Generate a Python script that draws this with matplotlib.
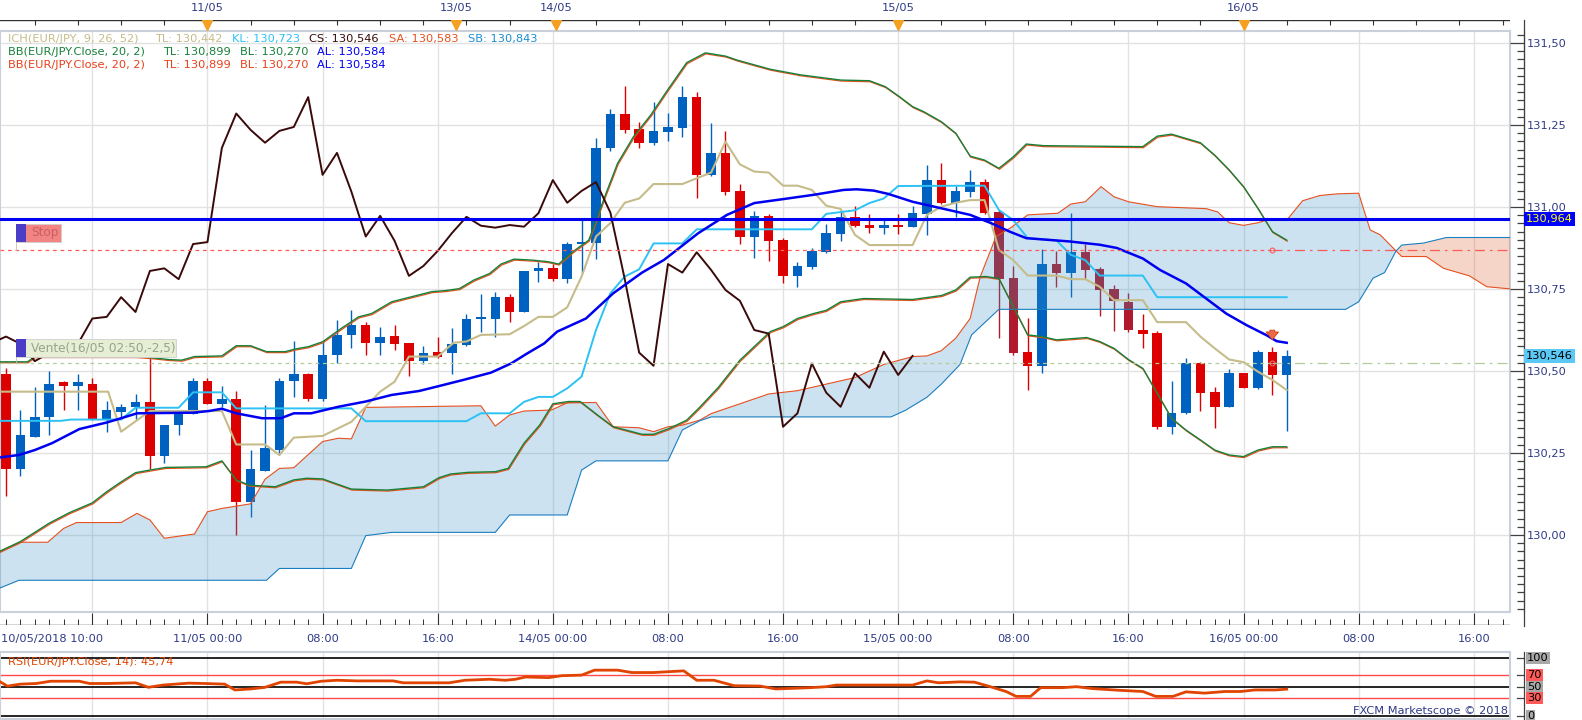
import numpy as np
import matplotlib
matplotlib.use('Agg')
import matplotlib.pyplot as plt
from matplotlib.patches import Rectangle, Polygon
from matplotlib.transforms import blended_transform_factory, offset_copy

# ---- hourly candles EUR/JPY, index 0 = 10/05 10:00 ----
opens = [130.49, 130.20, 130.30, 130.36, 130.465, 130.455, 130.46, 130.35, 130.375, 130.39,
         130.405, 130.24, 130.335, 130.37, 130.47, 130.40, 130.415, 130.10, 130.195, 130.26,
         130.47, 130.49, 130.415, 130.55, 130.61, 130.64, 130.585, 130.607, 130.585, 130.53,
         130.557, 130.555, 130.58, 130.66, 130.66, 130.725, 130.68, 130.805, 130.813, 130.78,
         130.887, 130.89, 131.18, 131.285, 131.237, 131.196, 131.23, 131.242, 131.335, 131.098,
         131.165, 131.049, 130.91, 130.973, 130.899, 130.79, 130.818, 130.864, 130.919, 130.97,
         130.945, 130.937, 130.945, 130.94, 130.98, 131.082, 131.013, 131.046, 131.076, 130.986,
         130.784, 130.558, 130.516, 130.826, 130.80, 130.862, 130.811, 130.75, 130.711, 130.625,
         130.616, 130.33, 130.371, 130.525, 130.435, 130.391, 130.493, 130.449, 130.557, 130.488]
highs = [130.51, 130.38, 130.45, 130.50, 130.47, 130.49, 130.48, 130.41, 130.40, 130.43,
         130.54, 130.335, 130.375, 130.48, 130.48, 130.455, 130.44, 130.26, 130.395, 130.48,
         130.59, 130.495, 130.59, 130.655, 130.685, 130.65, 130.635, 130.64, 130.585, 130.575,
         130.605, 130.63, 130.675, 130.735, 130.74, 130.735, 130.805, 130.833, 130.826, 130.893,
         130.96, 131.21, 131.30, 131.37, 131.26, 131.32, 131.286, 131.37, 131.35, 131.257,
         131.233, 131.07, 130.988, 130.98, 130.905, 130.833, 130.875, 130.948, 130.988, 131.003,
         130.979, 130.963, 130.98, 131.003, 131.127, 131.133, 131.064, 131.113, 131.085, 130.99,
         130.82, 130.662, 130.871, 130.867, 130.981, 130.887, 130.816, 130.762, 130.737, 130.674,
         130.621, 130.47, 130.539, 130.528, 130.45, 130.505, 130.495, 130.564, 130.572, 130.564]
lows = [130.12, 130.18, 130.30, 130.305, 130.38, 130.38, 130.35, 130.315, 130.355, 130.355,
        130.20, 130.22, 130.305, 130.37, 130.40, 130.39, 130.00, 130.055, 130.195, 130.245,
        130.42, 130.41, 130.41, 130.525, 130.57, 130.55, 130.55, 130.565, 130.485, 130.52,
        130.54, 130.49, 130.575, 130.62, 130.605, 130.65, 130.68, 130.77, 130.775, 130.767,
        130.80, 130.84, 131.17, 131.225, 131.18, 131.19, 131.20, 131.214, 131.027, 131.095,
        131.037, 130.887, 130.845, 130.835, 130.767, 130.757, 130.81, 130.86, 130.897, 130.94,
        130.922, 130.918, 130.918, 130.94, 130.915, 131.01, 130.97, 131.03, 130.98, 130.60,
        130.55, 130.442, 130.495, 130.757, 130.727, 130.78, 130.669, 130.623, 130.62, 130.569,
        130.322, 130.308, 130.37, 130.379, 130.327, 130.39, 130.449, 130.446, 130.427, 130.318]
closes = [130.20, 130.305, 130.36, 130.46, 130.455, 130.465, 130.35, 130.38, 130.39, 130.405,
          130.24, 130.335, 130.37, 130.47, 130.40, 130.415, 130.10, 130.20, 130.265, 130.47,
          130.49, 130.415, 130.55, 130.61, 130.64, 130.585, 130.605, 130.583, 130.53, 130.555,
          130.544, 130.583, 130.66, 130.665, 130.725, 130.68, 130.805, 130.813, 130.78, 130.887,
          130.893, 131.18, 131.285, 131.235, 131.196, 131.232, 131.244, 131.335, 131.098, 131.165,
          131.047, 130.91, 130.973, 130.897, 130.79, 130.82, 130.866, 130.921, 130.97, 130.943,
          130.937, 130.945, 130.94, 130.981, 131.082, 131.013, 131.049, 131.076, 130.983, 130.78,
          130.556, 130.516, 130.826, 130.80, 130.862, 130.808, 130.747, 130.714, 130.625, 130.614,
          130.33, 130.371, 130.523, 130.434, 130.391, 130.493, 130.449, 130.559, 130.488, 130.546]

# ---- indicator lines (index, price) ----
tenkan = [(-0.5, 130.437), (7.1, 130.437), (8, 130.315), (10, 130.378), (15, 130.378), (16, 130.276),
          (18, 130.276), (19, 130.244), (20, 130.297), (22, 130.302), (24, 130.345), (26, 130.437),
          (27, 130.467), (28, 130.544), (30, 130.544), (31.1, 130.586), (32, 130.59), (33, 130.61),
          (35, 130.612), (36, 130.637), (37, 130.665), (38, 130.665), (39, 130.694), (40, 130.788),
          (41, 130.91), (42, 130.951), (43, 131.013), (44, 131.026), (45, 131.07), (47, 131.07),
          (49, 131.105), (50, 131.199), (51, 131.13), (52, 131.108), (53, 131.105), (54, 131.065),
          (55, 131.065), (56, 131.052), (57, 131.004), (58, 130.994), (59, 130.915), (60, 130.884),
          (63, 130.884), (64, 130.976), (65, 131.001), (66, 131.013), (67, 131.021), (68, 131.021),
          (69, 130.869), (70, 130.838), (71, 130.791), (73, 130.791), (74, 130.78), (75, 130.78),
          (76, 130.757), (77, 130.716), (79, 130.716), (80, 130.649), (82, 130.649), (83, 130.605),
          (84, 130.569), (85, 130.535), (86, 130.527), (87, 130.498), (88, 130.473), (89, 130.442)]
kijun = [(-0.5, 130.348), (3.8, 130.348), (4.5, 130.352), (8, 130.352), (9, 130.388), (12, 130.388),
         (13, 130.435), (15, 130.435), (16, 130.386), (24, 130.386), (25, 130.347), (32, 130.347),
         (33, 130.371), (35, 130.371), (36, 130.406), (37, 130.421), (38, 130.421), (39, 130.447),
         (40, 130.483), (41, 130.625), (42, 130.737), (43, 130.788), (44, 130.81), (45, 130.889),
         (47, 130.889), (48, 130.932), (56, 130.932), (57, 130.979), (59, 130.99), (60, 131.012),
         (61, 131.026), (62, 131.064), (68, 131.065), (69, 130.991), (70, 130.96), (71, 130.905),
         (73, 130.898), (74, 130.854), (75, 130.838), (76, 130.791), (79, 130.791), (80, 130.725),
         (89, 130.725)]
senkou_a = [(-0.5, 129.949), (1, 129.978), (2.9, 129.978), (4, 130.02), (4.9, 130.038), (8, 130.038),
            (9.1, 130.066), (10, 130.046), (11, 129.99), (12.1, 129.997), (13.1, 130.003), (14, 130.071),
            (15, 130.081), (17, 130.095), (18, 130.17), (19, 130.203), (20, 130.205), (21.1, 130.249),
            (22, 130.285), (23.1, 130.295), (24, 130.293), (25, 130.389), (33, 130.394), (34, 130.332),
            (35, 130.366), (36, 130.378), (37.9, 130.381), (39, 130.403), (41, 130.404), (42.2, 130.33),
            (44, 130.327), (45, 130.315), (46, 130.33), (47, 130.335), (48.2, 130.35), (49, 130.37),
            (51, 130.40), (53, 130.43), (55, 130.44), (57, 130.46), (59, 130.48), (61, 130.52),
            (63, 130.544), (64, 130.546), (65, 130.562), (66, 130.60), (67, 130.66), (67.7, 130.787),
            (68.8, 130.91), (69.9, 130.939), (71, 130.976), (73.1, 130.981), (74, 131.009), (75, 131.016),
            (76.1, 131.062), (77, 131.031), (78, 131.016), (80, 131.001), (83.4, 130.995), (84.2, 130.985),
            (85, 130.952), (86, 130.944), (87, 130.952), (87.9, 130.964), (89.1, 130.965), (90.1, 131.019),
            (91.3, 131.035), (92.5, 131.04), (94, 131.042), (94.8, 130.93), (95.5, 130.915),
            (96.6, 130.866), (97, 130.849), (98.7, 130.849), (99.9, 130.813), (101.7, 130.79),
            (102.9, 130.757), (104.6, 130.75)]
senkou_b = [(-0.5, 129.837), (0.9, 129.862), (18.1, 129.862), (19, 129.898), (24, 129.898), (25, 129.998),
            (26.8, 130.008), (34, 130.008), (35, 130.061), (39, 130.061), (40, 130.198), (41, 130.226),
            (46, 130.226), (47, 130.32), (48.2, 130.348), (49, 130.36), (61.5, 130.36), (62.5, 130.38),
            (64, 130.42), (65, 130.46), (66.3, 130.52), (67.1, 130.61), (69, 130.688), (93.1, 130.688),
            (94, 130.711), (95, 130.783), (95.8, 130.80), (96.6, 130.866), (97, 130.884), (98.5, 130.89),
            (100.1, 130.907), (104.6, 130.907)]
bb_upper = [(-0.5, 130.528), (1.5, 130.528), (2, 130.544), (9, 130.544), (10, 130.541), (11.3, 130.535),
            (12.2, 130.533), (13.1, 130.544), (15, 130.546), (16, 130.577), (17, 130.577), (18.1, 130.559),
            (19.4, 130.559), (20.1, 130.567), (21, 130.574), (22, 130.589), (23.3, 130.63), (24.5, 130.665),
            (25.4, 130.675), (26.8, 130.711), (27.7, 130.721), (29.6, 130.742), (30.5, 130.745),
            (31.5, 130.751), (32.5, 130.777), (33.6, 130.797), (34.4, 130.826), (35.3, 130.841),
            (36.6, 130.838), (37.7, 130.833), (38.4, 130.826), (39.4, 130.864), (40.5, 130.899),
            (41.7, 131.042), (42.5, 131.133), (43.6, 131.214), (44.8, 131.28), (45.9, 131.352),
            (47.3, 131.44), (48.6, 131.47), (50, 131.46), (50.8, 131.448), (53.1, 131.42), (55.2, 131.403),
            (58, 131.387), (60, 131.385), (61.1, 131.367), (62.1, 131.336), (63, 131.306), (63.8, 131.29),
            (65, 131.26), (66, 131.225), (67, 131.155), (68, 131.143), (69, 131.118), (70, 131.153),
            (70.9, 131.192), (72.1, 131.187), (79, 131.184), (80, 131.216), (81, 131.222), (82, 131.209),
            (83, 131.196), (84, 131.158), (85, 131.113), (86, 131.062), (87, 130.996), (88, 130.925),
            (89, 130.899)]
bb_lower = [(-0.5, 129.949), (1, 129.98), (3, 130.036), (4.4, 130.068), (6, 130.098), (7, 130.132),
            (7.9, 130.159), (9, 130.19), (10, 130.198), (11.1, 130.206), (13.9, 130.208), (15, 130.226),
            (16, 130.168), (16.9, 130.152), (18.7, 130.147), (20, 130.168), (20.9, 130.173), (22, 130.171),
            (24, 130.14), (26.5, 130.137), (29, 130.147), (30.1, 130.175), (30.9, 130.186), (32.1, 130.191),
            (34, 130.193), (34.9, 130.203), (36, 130.28), (37.1, 130.336), (38, 130.40), (39.1, 130.407),
            (39.9, 130.407), (41.1, 130.366), (42.2, 130.33), (44.2, 130.307), (45, 130.307),
            (46.1, 130.325), (47.3, 130.35), (48.2, 130.389), (49.5, 130.45), (51, 130.533), (53.1, 130.62),
            (54, 130.635), (55, 130.66), (56.1, 130.675), (57, 130.685), (58, 130.711), (59.6, 130.721),
            (63, 130.718), (65, 130.73), (66, 130.747), (67, 130.786), (68.1, 130.788), (69, 130.782),
            (70, 130.696), (71, 130.61), (72, 130.605), (73, 130.595), (75.1, 130.602), (76, 130.59),
            (77, 130.569), (78, 130.535), (79, 130.508), (80, 130.432), (81, 130.356), (82, 130.32),
            (83, 130.29), (84, 130.259), (85, 130.244), (86, 130.239), (87, 130.259), (88, 130.269),
            (89, 130.269)]
bb_mid = [(-0.5, 130.236), (0.9, 130.244), (2, 130.259), (3.2, 130.28), (5.1, 130.323), (7, 130.343),
          (8, 130.356), (9.1, 130.371), (13, 130.373), (14.1, 130.378), (15, 130.385), (16, 130.371),
          (17.8, 130.356), (19.1, 130.356), (20, 130.371), (21.2, 130.371), (23.1, 130.391), (25, 130.407),
          (26.8, 130.427), (28.7, 130.439), (29.9, 130.452), (31.8, 130.473), (33.7, 130.495),
          (35.1, 130.523), (36.2, 130.553), (37.4, 130.584), (38.3, 130.62), (40.3, 130.66),
          (42.2, 130.737), (44.2, 130.80), (45.7, 130.838), (46, 130.848), (48.1, 130.92), (50.1, 130.976),
          (52, 131.012), (54, 131.024), (56.1, 131.037), (58.2, 131.052), (59.1, 131.054), (60.3, 131.05),
          (61.3, 131.04), (63, 131.016), (65, 130.996), (67, 130.976), (68.5, 130.95), (69.8, 130.924),
          (70.9, 130.905), (73.9, 130.895), (76, 130.885), (77.2, 130.875), (79, 130.843), (80.2, 130.808),
          (82, 130.767), (83.4, 130.721), (84.8, 130.675), (86.2, 130.64), (87.6, 130.609),
          (88.3, 130.591), (89, 130.586)]
rsi = [(-0.4, 58.3), (0.1, 51), (1.0, 54.4), (2.1, 55.5), (3.1, 59.4), (5.1, 59.4), (5.8, 55.5), (7.0, 55.5),
       (9.0, 56.7), (9.9, 48.9), (10.9, 52.8), (12.7, 56.1), (13.8, 55.5), (15.2, 54.4), (15.9, 44.4),
       (17.0, 46.1), (18.0, 48.9), (19.1, 57.8), (20.2, 57.8), (20.9, 55.0), (21.9, 59.4), (23.0, 61.1),
       (24.4, 60), (26.9, 60), (27.6, 56.7), (30.8, 56.7), (31.9, 61.1), (33.6, 62.8), (34.7, 61.1),
       (35.4, 62.8), (36.1, 66.7), (37.7, 65.6), (38.6, 68.9), (40.0, 70), (40.9, 78.5), (42.5, 78.5),
       (43.5, 74.4), (45.0, 74.4), (47.1, 77.3), (48.0, 61.1), (49.2, 61.1), (50.6, 51.7), (52.4, 51.1),
       (53.5, 46.1), (55.9, 48.3), (57, 50), (57.7, 52.8), (63, 52.8), (64, 60), (64.8, 56.7), (66.3, 58.3),
       (67.3, 57.8), (68.4, 50), (69.5, 41.7), (70.2, 33.3), (71.2, 33.3), (71.9, 48.3), (73.4, 48.3),
       (74.4, 50), (75.5, 46.7), (77.3, 43.9), (79, 41.7), (79.9, 33.3), (81.1, 33.3), (82, 41.1),
       (83.3, 38.9), (84.7, 41.7), (85.8, 41.7), (86.8, 44.4), (88.2, 44.4), (89, 45.74)]

dark_red_idx = [69, 70, 73, 75, 76, 77, 78]
stop_price = 130.869
sell_price = 130.523
line_price = 130.964
last_price = 130.546
order_idx = 88

bottom_ticks = [14, 22, 30, 38, 46, 54, 62, 70, 78, 86, 94, 102]
bottom_labels = ['11/05 00:00', '08:00', '16:00', '14/05 00:00', '08:00', '16:00',
                 '15/05 00:00', '08:00', '16:00', '16/05 00:00', '08:00', '16:00']
day_marks = [14, 31.3, 38.2, 62, 86]
day_labels = ['11/05', '13/05', '14/05', '15/05', '16/05']
price_levels = [130.00, 130.25, 130.50, 130.75, 131.00, 131.25, 131.50]
rsi_levels = [(100, '#A8A8A8'), (70, '#FF5A5A'), (50, '#A8A8A8'), (30, '#FF5A5A'), (0, '#A8A8A8')]

# ---- layout (pixel based) ----
W, H = 1582, 720
X0, DX = 6.0, 14.39          # pixel of index 0, pixels per hour
PLOT_R = 1510
XMIN, XMAX = -X0 / DX, (PLOT_R - X0) / DX
YMIN = 130 + (535 - 612) / 328.0
YMAX = 130 + (535 - 31) / 328.0
PPX = 1 / 328.0                # price per pixel

navy = '#2E3A87'
plt.rcParams['font.family'] = ['DejaVu Sans']
fs = 8.2

fig = plt.figure(figsize=(W / 100, H / 100), dpi=100)
fig.patch.set_facecolor('white')


def box(l, t, r, b):
    return [l / W, 1 - b / H, (r - l) / W, (b - t) / H]


def xy(pts):
    a = np.array(pts)
    return a[:, 0], a[:, 1]


def fmt(v, n=2):
    return f'{v:.{n}f}'.replace('.', ',')


ax = fig.add_axes(box(0, 31, PLOT_R, 612))
ax.set_xlim(XMIN, XMAX)
ax.set_ylim(YMIN, YMAX)
ax.set_xticks([6] + bottom_ticks)
ax.set_yticks(price_levels)
ax.tick_params(length=0, labelleft=False, labelbottom=False)
ax.grid(True, color='#E2E2E2', lw=1.0, zorder=0)
ax.set_axisbelow(True)
for s in ax.spines.values():
    s.set_color('#C9D0DA')
    s.set_linewidth(1.5)

# candles
idx = np.arange(len(opens))
o, h, l, c = map(np.array, (opens, highs, lows, closes))
cols = np.where(c >= o, '#0062C0', '#DC0000').astype(object)
for k in dark_red_idx:
    cols[k] = '#B01A2C'
ax.vlines(idx, l, h, colors=list(cols), lw=1.0, zorder=2)
body = np.maximum(np.abs(c - o), 2 * PPX)
ax.bar(idx, body, bottom=np.minimum(o, c), width=0.66, color=list(cols), lw=0, zorder=2)

# ichimoku cloud
ax_a, ay_a = xy(senkou_a)
bx_b, by_b = xy(senkou_b)
cross = 96.6
for sel, fc in [(lambda v: v <= cross, '#3A92C5'), (lambda v: v >= cross, '#DC5D2B')]:
    ma, mb = sel(ax_a), sel(bx_b)
    px = np.r_[ax_a[ma], bx_b[mb][::-1]]
    py = np.r_[ay_a[ma], by_b[mb][::-1]]
    ax.add_patch(Polygon(np.c_[px, py], closed=True, fc=fc, alpha=0.26, lw=0, zorder=3))
ax.plot(ax_a, ay_a, color='#E8501E', lw=0.8, zorder=4)
ax.plot(bx_b, by_b, color='#1A7EC0', lw=0.8, zorder=4)

# bollinger bands (two identical BB overlays: green + orange, 1px apart)
shifted = offset_copy(ax.transData, fig=fig, x=0.6, y=-1.0, units='dots')
for band in (bb_upper, bb_lower):
    bx, by = xy(band)
    ax.plot(bx, by, color='#E8501A', lw=0.9, transform=shifted, zorder=5)
    ax.plot(bx, by, color='#17803A', lw=1.0, zorder=5)
mx, my = xy(bb_mid)
ax.plot(mx, my, color='#0000F0', lw=1.8, zorder=6)

# tenkan, kijun, chikou
tx, ty = xy(tenkan)
ax.plot(tx, ty, color='#C6BC8A', lw=1.5, zorder=5)
kx, ky = xy(kijun)
ax.plot(kx, ky, color='#2CC2F4', lw=1.4, zorder=5)
ax.plot(idx[25:] - 26, c[25:], color='#3A0A0A', lw=1.4, zorder=5)

# horizontal lines
ax.axhline(line_price, color='#0000F0', lw=2.2, zorder=7)
ax.plot([XMIN, order_idx], [stop_price] * 2, color='#FF5A5A', lw=0.9, ls=(0, (3, 3)), zorder=7)
ax.plot([order_idx, XMAX], [stop_price] * 2, color='#FF5A5A', lw=0.9, ls=(0, (8, 4, 2, 4)), zorder=7)
ax.plot([XMIN, order_idx], [sell_price] * 2, color='#B4CC9C', lw=0.9, ls=(0, (3, 3)), zorder=7)
ax.plot([order_idx, XMAX], [sell_price] * 2, color='#B4CC9C', lw=0.9, ls=(0, (8, 4, 2, 4)), zorder=7)
ax.plot([order_idx], [stop_price], 'o', ms=3.5, mfc='none', mec='#FF5A5A', mew=0.8, zorder=8)
ax.plot([order_idx], [sell_price], 'o', ms=3.5, mfc='none', mec='#E07070', mew=0.8, zorder=8)
ax.annotate('', xy=(order_idx, h[order_idx] + 5 * PPX), xytext=(order_idx, h[order_idx] + 20 * PPX),
            arrowprops=dict(arrowstyle='simple,head_width=0.9,head_length=0.55,tail_width=0.35',
                            fc='#EE6A45', ec='#C8401E', lw=0.6), zorder=9)

# order labels at the left edge
tr = blended_transform_factory(ax.transAxes, ax.transData)


def order_label(price, text, fc, tc, width_px, gap_px):
    y0 = price + gap_px * PPX
    hgt = 18 * PPX
    ax.add_patch(Rectangle((16 / PLOT_R, y0), width_px / PLOT_R, hgt, transform=tr,
                           fc=fc, ec='#D0D0D0', lw=0.6, zorder=10))
    ax.add_patch(Rectangle((16 / PLOT_R, y0), 10 / PLOT_R, hgt, transform=tr,
                           fc='#4A3EC6', ec='none', zorder=11))
    ax.text(31 / PLOT_R, y0 + hgt / 2, text, transform=tr, fontsize=fs + 0.5, color=tc,
            va='center', ha='left', zorder=12)
    ax.plot([16 / PLOT_R] * 2, [price, y0], transform=tr, color='#C0C0C0', lw=0.6, zorder=10)


order_label(stop_price, 'Stop', '#F28484', '#C86060', 45, 8)
order_label(sell_price, 'Vente(16/05 02:50,-2,5)', '#E6EED6', '#98A486', 160, 6)

# right price axis
yax = fig.add_axes(box(PLOT_R, 31, 1524, 612), sharey=ax)
yax.set_xlim(0, 1)
yax.patch.set_visible(False)
for side in ('left', 'top', 'bottom'):
    yax.spines[side].set_visible(False)
yax.spines['right'].set_color('#404040')
yax.yaxis.tick_right()
yax.set_xticks([])
yax.set_yticks(price_levels)
yax.set_yticks(np.arange(129.775, 131.54, 0.025), minor=True)
yax.set_yticklabels([fmt(v) for v in price_levels])
yax.tick_params(axis='y', which='major', direction='in', length=10, width=0.9, color='#404040',
                labelsize=fs, labelcolor=navy, pad=2)
yax.tick_params(axis='y', which='minor', direction='in', length=5, width=0.9, color='#404040')
fig.add_artist(plt.Line2D([1524 / W] * 2, [1 - 20 / H, 1 - 626 / H], color='#404040', lw=0.9))

ptr = blended_transform_factory(fig.transFigure, ax.transData)
fig.text(1526 / W, line_price, fmt(line_price, 3), transform=ptr, fontsize=fs, color='#FFFF00',
         va='center', ha='left', bbox=dict(boxstyle='square,pad=0.18', fc='#0000FF', ec='none'), zorder=20)
fig.text(1526 / W, last_price, fmt(last_price, 3), transform=ptr, fontsize=fs, color='black',
         va='center', ha='left', bbox=dict(boxstyle='square,pad=0.18', fc='#5CC8F6', ec='none'), zorder=20)

# top date strip
tax = fig.add_axes(box(0, 20, PLOT_R, 31))
tax.set_xlim(XMIN, XMAX)
tax.set_ylim(0, 11)
tax.axis('off')
tax.axhline(11, color='#303030', lw=1.0)
tax.vlines(np.arange(2, 105, 3), 6, 11, color='#303030', lw=0.8)
tax.plot(day_marks, [6.2] * len(day_marks), 'v', ms=7, color='#F5A021', zorder=5)
for m, s in zip(day_marks, day_labels):
    fig.text((X0 + m * DX) / W, 1 - 8 / H, s, fontsize=fs, color=navy, ha='center', va='center')

# bottom time strip
bax = fig.add_axes(box(0, 612, PLOT_R, 625))
bax.set_xlim(XMIN, XMAX)
bax.set_ylim(0, 13)
bax.axis('off')
bax.axhline(0, color='#303030', lw=1.0)
bax.vlines(np.arange(0, 105), 0, 6, color='#303030', lw=0.7)
bax.vlines([6] + bottom_ticks, 0, 12, color='#303030', lw=0.8)
fig.text(1 / W, 1 - 639 / H, '10/05/2018 10:00', fontsize=fs, color=navy, ha='left', va='center')
for t, s in zip(bottom_ticks, bottom_labels):
    fig.text((X0 + t * DX) / W, 1 - 639 / H, s, fontsize=fs, color=navy, ha='center', va='center')

# RSI panel
rax = fig.add_axes(box(0, 652, PLOT_R, 719))
rax.set_xlim(XMIN, XMAX)
rax.set_ylim(-5.7, 109.8)
rax.set_xticks([6] + bottom_ticks)
rax.set_yticks([])
rax.tick_params(length=0, labelbottom=False)
rax.grid(True, axis='x', color='#E2E2E2', lw=1.0)
for s in rax.spines.values():
    s.set_color('#C9D0DA')
    s.set_linewidth(1.5)
for lev in (100, 50, 0):
    rax.axhline(lev, color='black', lw=1.2, zorder=2)
for lev in (70, 30):
    rax.axhline(lev, color='#FF4848', lw=1.0, zorder=2)
rx, ry = xy(rsi)
rax.plot(rx, ry, color='#E04400', lw=2.0, zorder=3)
rax.text(8 / PLOT_R, 0.85, 'RSI(EUR/JPY.Close, 14): ' + fmt(ry[-1]), transform=rax.transAxes,
         fontsize=fs, color='#E04400', va='center', ha='left')
rax.text(1.0 - 2 / PLOT_R, 0.12, 'FXCM Marketscope \u00a9 2018', transform=rax.transAxes,
         fontsize=fs, color=navy, va='center', ha='right')

rtr = blended_transform_factory(fig.transFigure, rax.transData)
fig.add_artist(plt.Line2D([1524 / W] * 2, [0, 1 - 652 / H], color='#404040', lw=0.9))
for lev, bg in rsi_levels:
    fig.add_artist(plt.Line2D([1517 / W, 1524 / W], [lev, lev], transform=rtr, color='#404040', lw=0.9))
    fig.text(1527 / W, lev, str(lev), transform=rtr, fontsize=fs, color='black', va='center',
             ha='left', bbox=dict(boxstyle='square,pad=0.1', fc=bg, ec='none'))

# indicator legends
legend_rows = [
    (39, [(8.5, 'ICH(EUR/JPY, 9, 26, 52)', '#C6BC8A'), (155, 'TL: 130,442', '#C6BC8A'),
          (232, 'KL: 130,723', '#2CC2F4'), (309, 'CS: 130,546', '#3A0A0A'),
          (389, 'SA: 130,583', '#E8501E'), (468, 'SB: 130,843', '#1A8ED0')]),
    (52, [(8.5, 'BB(EUR/JPY.Close, 20, 2)', '#17803A'), (163, 'TL: 130,899', '#17803A'),
          (240, 'BL: 130,270', '#17803A'), (317, 'AL: 130,584', '#0000F0')]),
    (65, [(8.5, 'BB(EUR/JPY.Close, 20, 2)', '#E8401A'), (163, 'TL: 130,899', '#E8401A'),
          (240, 'BL: 130,270', '#E8401A'), (317, 'AL: 130,584', '#0000F0')]),
]
for ypx, parts in legend_rows:
    for xpx, s, col in parts:
        fig.text(xpx / W, 1 - ypx / H, s, fontsize=fs, color=col, ha='left', va='center', zorder=15)

fig.savefig('out.png', dpi=100, facecolor='white')
